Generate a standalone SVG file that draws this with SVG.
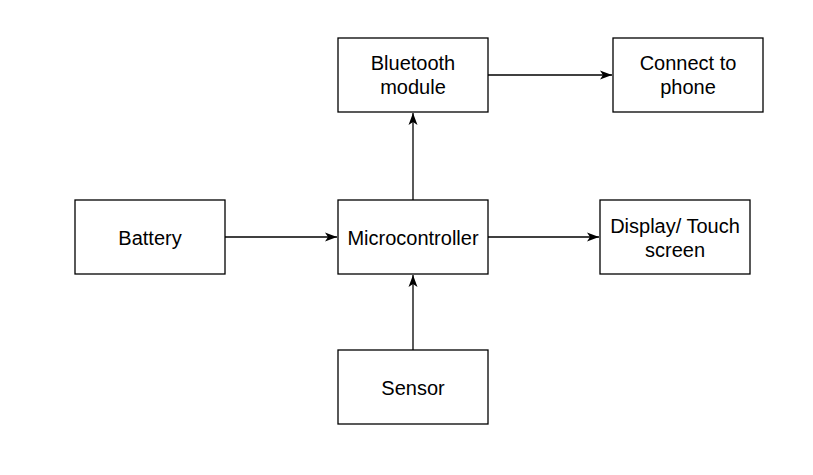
<svg xmlns="http://www.w3.org/2000/svg" width="813" height="475" viewBox="0 0 813 475">
<style>
.box{fill:#fff;stroke:#000;stroke-width:1.3}
.lbl{font-family:"Liberation Sans",Arial,sans-serif;font-size:20px;fill:#000;text-anchor:middle}
.edge{fill:none;stroke:#000;stroke-width:1.3}
</style>
<defs>
<marker id="arr" viewBox="0 0 12 10" refX="12" refY="5" markerWidth="12" markerHeight="10" markerUnits="userSpaceOnUse" orient="auto">
<path d="M0,0.5 L12,5 L0,9.5 L3,5 Z" fill="#000"/>
</marker>
</defs>
<rect width="813" height="475" fill="#fff"/>
<g id="connectors">
<line class="edge" x1="488" y1="75" x2="612" y2="75" marker-end="url(#arr)"/>
<line class="edge" x1="225" y1="237" x2="337" y2="237" marker-end="url(#arr)"/>
<line class="edge" x1="488" y1="237" x2="599" y2="237" marker-end="url(#arr)"/>
<line class="edge" x1="413" y1="200" x2="413" y2="113" marker-end="url(#arr)"/>
<line class="edge" x1="413" y1="350" x2="413" y2="275" marker-end="url(#arr)"/>
</g>
<g id="bluetooth">
<rect class="box" x="338" y="38" width="150" height="74"/>
<text class="lbl" x="413" y="70">Bluetooth</text>
<text class="lbl" x="413" y="94">module</text>
</g>
<g id="phone">
<rect class="box" x="613" y="38" width="150" height="74"/>
<text class="lbl" x="688" y="70">Connect to</text>
<text class="lbl" x="688" y="94">phone</text>
</g>
<g id="battery">
<rect class="box" x="75" y="200" width="150" height="74"/>
<text class="lbl" x="150" y="244.5">Battery</text>
</g>
<g id="microcontroller">
<rect class="box" x="338" y="200" width="150" height="74"/>
<text class="lbl" x="413" y="244.5">Microcontroller</text>
</g>
<g id="display">
<rect class="box" x="600" y="200" width="150" height="74"/>
<text class="lbl" x="675" y="232.5">Display/ Touch</text>
<text class="lbl" x="675" y="256.5">screen</text>
</g>
<g id="sensor">
<rect class="box" x="338" y="350" width="150" height="74"/>
<text class="lbl" x="413" y="394.5">Sensor</text>
</g>
</svg>
